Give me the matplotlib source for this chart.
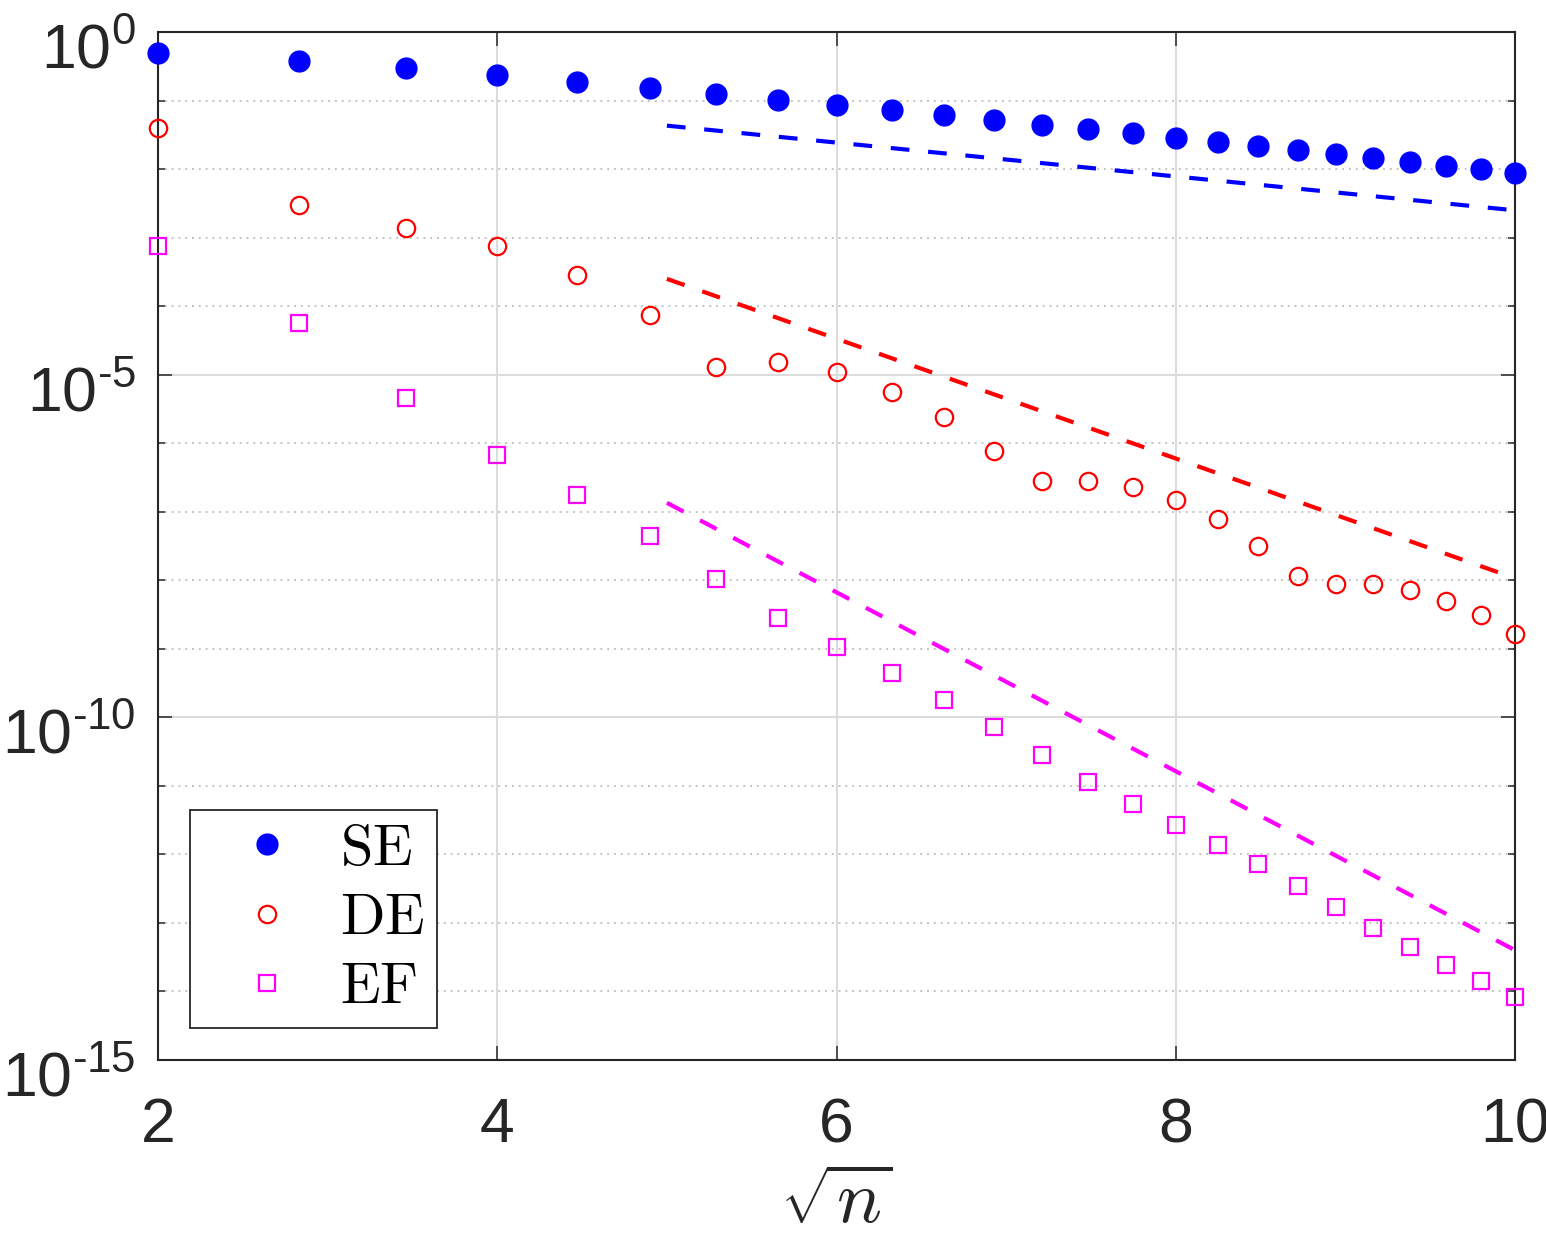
import numpy as np
import matplotlib
matplotlib.use("Agg")
import matplotlib.pyplot as plt
from matplotlib.font_manager import FontProperties
from matplotlib.ticker import FixedLocator, FixedFormatter, NullFormatter
from matplotlib.transforms import ScaledTranslation

plt.rcParams['font.family'] = ['Liberation Sans', 'DejaVu Sans']
plt.rcParams['mathtext.fontset'] = 'custom'
plt.rcParams['mathtext.rm'] = 'Liberation Sans'
plt.rcParams['mathtext.it'] = 'Liberation Sans:italic'
plt.rcParams['mathtext.bf'] = 'Liberation Sans:bold'

# ---------------- data ----------------
n_values = [4, 8, 12, 16, 20, 24, 28, 32, 36, 40, 44, 48, 52,
            56, 60, 64, 68, 72, 76, 80, 84, 88, 92, 96, 100]

se_err = [5.0e-1, 3.8e-1, 2.95e-1, 2.35e-1, 1.88e-1, 1.52e-1, 1.25e-1, 1.02e-1,
          8.5e-2, 7.2e-2, 6.2e-2, 5.2e-2, 4.4e-2, 3.8e-2, 3.4e-2, 2.8e-2,
          2.45e-2, 2.2e-2, 1.9e-2, 1.66e-2, 1.45e-2, 1.26e-2, 1.1e-2, 1.0e-2, 8.7e-3]

de_err = [4.0e-2, 3.0e-3, 1.37e-3, 7.6e-4, 2.85e-4, 7.4e-5, 1.29e-5, 1.51e-5,
          1.1e-5, 5.6e-6, 2.4e-6, 7.8e-7, 2.8e-7, 2.8e-7, 2.3e-7, 1.48e-7,
          7.8e-8, 3.2e-8, 1.15e-8, 8.9e-9, 8.9e-9, 7.2e-9, 5.0e-9, 3.1e-9, 1.66e-9]

ef_err = [7.6e-4, 5.7e-5, 4.6e-6, 6.8e-7, 1.74e-7, 4.4e-8, 1.05e-8, 2.8e-9,
          1.07e-9, 4.5e-10, 1.78e-10, 7.2e-11, 2.8e-11, 1.12e-11, 5.4e-12, 2.7e-12,
          1.38e-12, 7.2e-13, 3.5e-13, 1.7e-13, 8.5e-14, 4.5e-14, 2.45e-14, 1.41e-14, 8.3e-15]

ref_x = [5.0, 10.0]
se_ref = [4.3e-2, 2.5e-3]
de_ref = [2.5e-4, 1.07e-8]
ef_ref = [1.35e-7, 4.0e-14]

labels = ['SE', 'DE', 'EF']
x_ticks = [2, 4, 6, 8, 10]
x_ticklabels = ['2', '4', '6', '8', '10']
y_major = [1e-15, 1e-10, 1e-5, 1e0]
y_major_labels = [r'$\mathregular{10^{\text{-}15}}$', r'$\mathregular{10^{\text{-}10}}$',
                  r'$\mathregular{10^{\text{-}5}}$', r'$\mathregular{10^{0}}$']
y_minor = [1e-14, 1e-13, 1e-12, 1e-11, 1e-9, 1e-8, 1e-7, 1e-6,
           1e-4, 1e-3, 1e-2, 1e-1]

sqrt_n = np.sqrt(n_values)

# ---------------- figure ----------------
fig = plt.figure(figsize=(15.46, 12.36), dpi=100)
ax = fig.add_axes([158/1546, 1 - 1060/1236, (1515-158)/1546, (1060-32)/1236])
ax.set_yscale('log')
ax.set_xlim(2, 10)
ax.set_ylim(1e-15, 1e0)

dark = '#262626'

ax.plot(sqrt_n, se_err, 'o', ls='none', color='blue', mec='blue', ms=15,
        clip_on=False, zorder=5, label=labels[0])
ax.plot(sqrt_n, de_err, 'o', ls='none', mfc='none', mec='red', ms=12.5, mew=1.6,
        clip_on=False, zorder=5, label=labels[1])
ax.plot(sqrt_n, ef_err, 's', ls='none', mfc='none', mec='magenta', ms=11.5, mew=1.6,
        clip_on=False, zorder=5, label=labels[2])

for yy, c in [(se_ref, 'blue'), (de_ref, 'red'), (ef_ref, 'magenta')]:
    ax.plot(ref_x, yy, color=c, lw=3, ls=(0, (4.5, 4.5)), zorder=4)

# ticks
ax.xaxis.set_major_locator(FixedLocator(x_ticks))
ax.xaxis.set_major_formatter(FixedFormatter(x_ticklabels))
ax.yaxis.set_major_locator(FixedLocator(y_major))
ax.yaxis.set_major_formatter(FixedFormatter(y_major_labels))
ax.yaxis.set_minor_locator(FixedLocator(y_minor))
ax.yaxis.set_minor_formatter(NullFormatter())
ax.xaxis.set_minor_locator(FixedLocator([]))

ax.tick_params(which='both', direction='in', top=True, right=True, colors=dark,
               labelcolor=dark)
ax.tick_params(which='major', length=10, width=1.1, labelsize=45)
ax.tick_params(which='minor', length=5, width=1.1)
ax.tick_params(axis='x', which='major', pad=26)
ax.tick_params(axis='y', which='major', pad=16)

for sp in ax.spines.values():
    sp.set_color(dark)
    sp.set_linewidth(1.5)

ax.grid(True, which='major', color='#dcdcdc', lw=1.5, ls='-')
ax.grid(True, which='minor', axis='y', color='#c4c4c4', lw=1.4, ls=(0, (1, 2.5)))
ax.set_axisbelow(True)

ax.set_xlabel(r'$\sqrt{n}$', fontsize=54, math_fontfamily='cm', labelpad=10,
              color=dark)

leg_font = FontProperties(size=42, math_fontfamily='cm')
handles, _ = ax.get_legend_handles_labels()
leg = ax.legend(handles, [r'$\mathrm{%s}$' % s for s in labels],
                loc='lower left', bbox_to_anchor=((190-158)/1357, (1060-1028)/1028),
                borderaxespad=0, prop=leg_font, fancybox=False, framealpha=1,
                edgecolor=dark, borderpad=0.22, handlelength=2.2, handletextpad=0.15,
                labelspacing=0.26, numpoints=1)
leg.get_frame().set_linewidth(1.3)
leg.set_zorder(10)

fig.canvas.draw()
shift = ScaledTranslation(0, -36/100, fig.dpi_scale_trans)
for t in ax.yaxis.get_major_ticks():
    t.label1.set_verticalalignment('baseline')
    t.label1.set_transform(t.label1.get_transform() + shift)

fig.savefig('out.png', dpi=100)
